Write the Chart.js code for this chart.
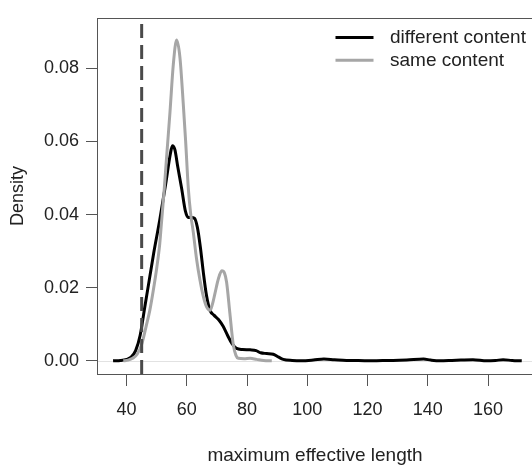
<!DOCTYPE html>
<html><head><meta charset="utf-8">
<script src="https://cdn.jsdelivr.net/npm/chart.js@4"></script>
<style>html,body{margin:0;padding:0;background:#fff}</style>
</head><body>
<canvas id="c" width="532" height="465"></canvas>
<script>
const seriesNames = ["different content", "same content"];
const diffX = [35.5,38,40,41.5,43,44.5,46,47.5,49,51,53,54.5,55.2,56,57,58.3,59.5,60.5,61.5,62.5,63.5,64.5,65.5,66.5,67.7,69,70.5,72,73.5,75,76.5,78.5,81,83,84.5,86.5,88.7,90.5,92,95,98,102,105.5,109,113,117,121,125,128.5,133,138.6,141,144,148,151,155,159.6,162.5,165,168,171.2];
const diffY = [0,0.0001,0.0004,0.001,0.0028,0.007,0.0145,0.022,0.0295,0.0385,0.0485,0.0565,0.0588,0.0578,0.053,0.047,0.041,0.0392,0.0392,0.039,0.0365,0.031,0.024,0.018,0.0138,0.0125,0.0113,0.0095,0.007,0.0047,0.0034,0.0031,0.003,0.0028,0.0022,0.002,0.0018,0.001,0.0004,0.0001,0,0.0002,0.0005,0.0003,0.0001,0.0001,0,0.0001,0.0001,0.0002,0.0005,0.0002,0,0.0001,0.0002,0.0003,0,0.0001,0.0003,0.0001,0];
const sameX = [38.9,40.5,42,43.5,45,46.5,47.7,49,50,51,51.6,52.5,53.3,54.4,55.5,56.6,57.7,58.8,59.6,60.5,61.3,62.1,63.2,64.4,65.5,66.6,67.7,68.5,69.3,70.5,71.6,72.5,73.2,74.3,75.4,76.3,77.1,79,81,83.2,85.5,88.2];
const sameY = [0,0.0002,0.0007,0.0018,0.0045,0.0095,0.0138,0.02,0.0254,0.032,0.038,0.047,0.056,0.068,0.081,0.0877,0.083,0.0704,0.06,0.047,0.04,0.0354,0.028,0.0219,0.0175,0.0147,0.0138,0.0155,0.0183,0.0225,0.0246,0.024,0.0215,0.0129,0.0045,0.0015,0.0007,0.0006,0.0007,0.0004,0.0001,0];
const xTicks = [40, 60, 80, 100, 120, 140, 160];
const yTicks = [0, 0.02, 0.04, 0.06, 0.08];
const cutoffX = 45;
const xTitle = "maximum effective length";
const yTitle = "Density";

const X_MIN = 30.5, X_MAX = 174.6, Y_MIN = -0.0036, Y_MAX = 0.0938;
const FONT = 'Liberation Sans, Arial, Helvetica, sans-serif';
const toPts = (xs, ys) => xs.map((x, i) => ({x, y: ys[i]}));

const decor = {
  id: 'decor',
  beforeDatasetsDraw(chart) {
    const {ctx, chartArea: a, scales: {y}} = chart;
    const y0 = Math.round(y.getPixelForValue(0)) + 0.5;
    ctx.save();
    ctx.strokeStyle = '#e2e2e2'; ctx.lineWidth = 1;
    ctx.beginPath(); ctx.moveTo(a.left, y0); ctx.lineTo(a.right, y0); ctx.stroke();
    ctx.restore();
  },
  afterDatasetsDraw(chart) {
    const {ctx, chartArea: a} = chart;
    ctx.save();
    ctx.strokeStyle = '#555'; ctx.lineWidth = 1;
    ctx.strokeRect(Math.round(a.left) - 0.5, Math.round(a.top) + 0.5, 700, Math.round(a.bottom - a.top));
    // legend
    const ds = chart.data.datasets;
    ctx.font = '19px ' + FONT;
    ctx.textBaseline = 'middle';
    ctx.fillStyle = '#222';
    [0, 1].forEach((i, k) => {
      const yy = 37.5 + k * 22.7;
      ctx.strokeStyle = ds[i].borderColor; ctx.lineWidth = 3;
      ctx.beginPath(); ctx.moveTo(335.5, yy); ctx.lineTo(373.5, yy); ctx.stroke();
      ctx.fillText(ds[i].label, 390, yy + 0.5);
    });
    ctx.restore();
  }
};

new Chart(document.getElementById('c'), {
  type: 'line',
  data: { datasets: [
    { label: seriesNames[0], data: toPts(diffX, diffY), borderColor: '#000000', borderWidth: 3, pointRadius: 0, cubicInterpolationMode: 'monotone', fill: false, order: 2 },
    { label: seriesNames[1], data: toPts(sameX, sameY), borderColor: '#a6a6a6', borderWidth: 3, pointRadius: 0, cubicInterpolationMode: 'monotone', fill: false, order: 1 },
    { label: 'cutoff', data: [{x: cutoffX, y: Y_MIN}, {x: cutoffX, y: Y_MAX}], borderColor: '#4a4a4a', borderWidth: 3, borderDash: [14, 7], pointRadius: 0, fill: false, order: 0 }
  ]},
  options: {
    responsive: false, animation: false, maintainAspectRatio: false,
    layout: { padding: { top: 14, left: 0, right: 0, bottom: 0 } },
    plugins: { legend: { display: false }, tooltip: { enabled: false } },
    scales: {
      x: {
        type: 'linear', min: X_MIN, max: X_MAX,
        afterBuildTicks: s => { s.ticks = xTicks.map(v => ({ value: v })); },
        afterFit: s => { s.height = 91; },
        grid: { drawOnChartArea: false, drawTicks: true, tickLength: 12, color: '#555', lineWidth: 1 },
        border: { display: false },
        ticks: { autoSkip: false, maxRotation: 0, padding: 13, color: '#222', font: { family: FONT, size: 18 }, callback: v => String(v) },
        title: { display: true, text: xTitle, color: '#222', font: { family: FONT, size: 19, lineHeight: 1 }, padding: { top: 0, bottom: 0 } }
      },
      y: {
        type: 'linear', min: Y_MIN, max: Y_MAX,
        afterBuildTicks: s => { s.ticks = yTicks.map(v => ({ value: v })); },
        afterFit: s => { s.width = 98; },
        grid: { drawOnChartArea: false, drawTicks: true, tickLength: 12, color: '#555', lineWidth: 1 },
        border: { display: false },
        ticks: { autoSkip: false, padding: 7, color: '#222', font: { family: FONT, size: 18 }, callback: v => v.toFixed(2) },
        title: { display: true, text: yTitle, color: '#222', font: { family: FONT, size: 18, lineHeight: 1 }, padding: { top: 9, bottom: 0 } }
      }
    }
  },
  plugins: [decor]
});
</script>
</body></html>
